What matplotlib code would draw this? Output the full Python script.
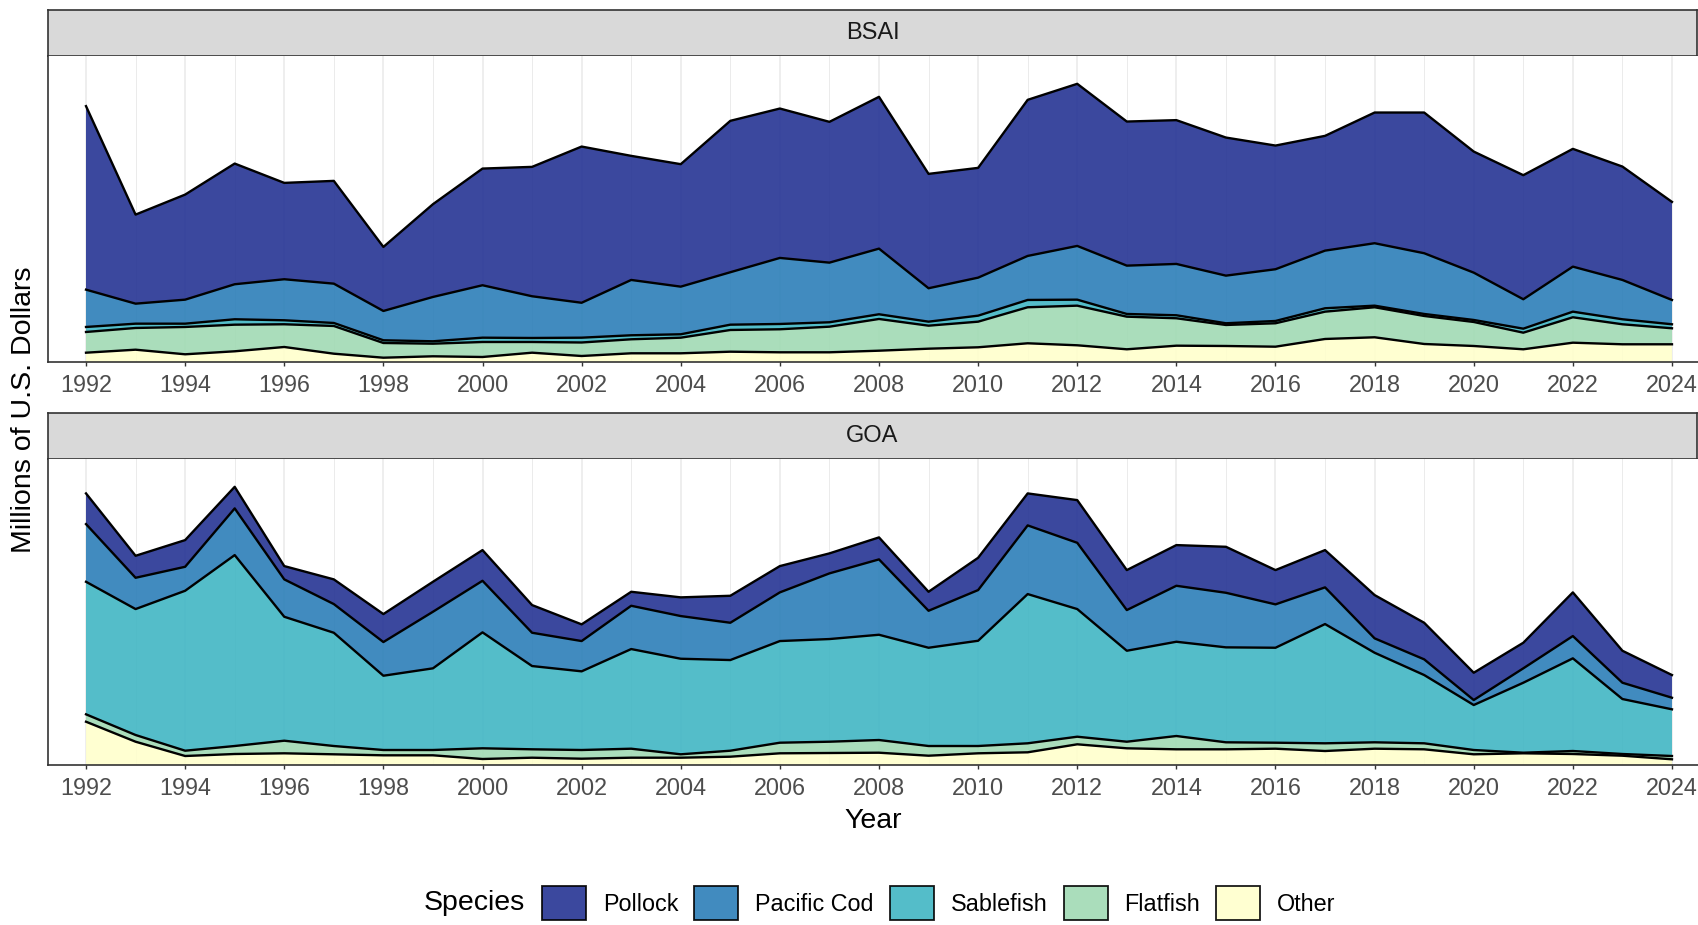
import matplotlib
matplotlib.use("Agg")
import matplotlib.pyplot as plt
import numpy as np
from matplotlib.patches import Patch

plt.rcParams["font.family"] = ["Liberation Sans", "DejaVu Sans"]

# Data (the chart shows no y tick labels, so the
# units are only relative within each panel).
years = [1992, 1993, 1994, 1995, 1996, 1997, 1998, 1999, 2000, 2001, 2002,
         2003, 2004, 2005, 2006, 2007, 2008, 2009, 2010, 2011, 2012, 2013,
         2014, 2015, 2016, 2017, 2018, 2019, 2020, 2021, 2022, 2023, 2024]
species = ["Pollock", "Pacific Cod", "Sablefish", "Flatfish", "Other"]
colors = ["#253494", "#2C7FB8", "#41B6C4", "#A1DAB4", "#FFFFCC"]

# BSAI
bsai_other = [9.3, 12.3, 7.7, 10.7, 15.0, 8.3, 4.3, 5.7, 5.0, 9.3, 6.0,
              8.7, 8.7, 10.3, 9.7, 9.7, 11.3, 13.3, 14.7, 18.7, 16.7, 12.7,
              16.3, 16.0, 15.3, 23.0, 24.7, 18.0, 16.0, 12.7, 19.3, 17.7, 17.7]
bsai_flatfish = [20.7, 21.7, 27.3, 26.6, 22.7, 27.7, 14.7, 12.6, 15.0, 10.7, 13.5,
                 14.0, 15.6, 21.7, 23.0, 25.6, 31.7, 23.0, 25.6, 36.0, 39.6, 32.6,
                 27.4, 21.0, 23.4, 27.3, 30.0, 28.0, 24.0, 16.6, 25.4, 20.0, 16.0]
bsai_sablefish = [5.0, 4.3, 3.3, 5.4, 4.0, 3.0, 2.7, 2.4, 4.3, 4.0, 4.8,
                  4.0, 3.4, 5.3, 5.3, 4.4, 4.7, 4.0, 6.0, 7.3, 6.0, 2.7,
                  3.0, 1.7, 2.3, 3.4, 1.6, 2.0, 2.0, 4.0, 5.6, 5.0, 4.0]
bsai_pcod = [37.3, 20.0, 24.0, 35.0, 41.0, 39.3, 29.3, 44.3, 52.4, 41.7, 34.9,
             55.3, 47.6, 52.4, 66.0, 59.6, 65.6, 33.4, 38.0, 44.0, 53.7, 48.3,
             51.3, 47.6, 51.7, 57.6, 62.4, 60.7, 47.3, 29.4, 45.0, 39.3, 24.3]
bsai_pollock = [183.4, 89.0, 105.0, 120.6, 96.3, 102.7, 64.0, 92.7, 116.6, 129.3, 156.1,
                124.0, 122.4, 151.3, 149.3, 140.7, 151.7, 114.3, 109.7, 156.0, 162.0, 144.0,
                143.7, 138.0, 123.6, 114.7, 130.6, 140.6, 121.0, 124.0, 117.7, 113.3, 98.0]

# GOA
goa_other = [43.3, 23.3, 9.0, 11.0, 11.7, 10.7, 9.7, 9.7, 6.0, 7.3, 6.3,
             7.3, 7.3, 8.3, 11.7, 12.0, 12.3, 9.3, 11.7, 12.7, 20.7, 16.7,
             15.7, 15.7, 16.3, 14.0, 16.3, 15.7, 10.7, 11.7, 11.0, 9.3, 5.7]
goa_flatfish = [7.4, 6.7, 5.3, 8.0, 12.6, 8.3, 5.3, 5.3, 10.7, 8.4, 8.7,
                9.0, 3.4, 6.0, 10.6, 11.3, 12.7, 9.7, 7.3, 9.0, 7.6, 6.6,
                13.3, 7.0, 6.0, 7.7, 6.4, 6.0, 4.3, 0.6, 3.0, 1.7, 3.3]
goa_sablefish = [132.6, 126.0, 160.0, 191.0, 124.0, 113.3, 74.3, 81.7, 116.0, 83.3, 78.7,
                 99.7, 95.6, 90.7, 101.7, 102.7, 105.3, 98.3, 105.3, 149.3, 127.7, 91.0,
                 94.3, 95.0, 95.0, 119.3, 89.6, 68.3, 45.0, 70.0, 92.7, 55.0, 46.7]
goa_pcod = [57.7, 31.3, 24.0, 46.7, 37.4, 28.7, 33.7, 56.6, 51.6, 33.3, 30.3,
            43.3, 42.7, 37.3, 48.7, 65.7, 75.4, 37.0, 50.7, 68.7, 66.3, 40.7,
            56.0, 54.6, 43.4, 36.7, 14.4, 15.7, 5.0, 14.4, 22.3, 16.3, 11.6]
goa_pollock = [30.7, 22.0, 26.7, 21.6, 13.3, 24.7, 28.0, 30.0, 30.7, 27.7, 16.7,
               14.0, 18.7, 27.0, 26.3, 20.0, 22.0, 19.0, 32.3, 32.0, 42.7, 40.0,
               40.7, 46.0, 34.3, 37.3, 43.3, 36.6, 27.3, 25.6, 43.7, 32.0, 22.7]

W, H = 1698, 925
fig = plt.figure(figsize=(W / 100, H / 100), dpi=100)
fig.patch.set_facecolor("white")

DARK = "#333333"


def add_strip(top_px, label):
    sax = fig.add_axes([48 / W, 1 - (top_px + 46) / H, 1649 / W, 46 / H])
    sax.set_facecolor("#D9D9D9")
    sax.set_xticks([])
    sax.set_yticks([])
    for sp in sax.spines.values():
        sp.set_color(DARK)
        sp.set_linewidth(1.2)
    sax.text(0.5, 0.5, label, ha="center", va="center", fontsize=17,
             color="#1A1A1A", transform=sax.transAxes)


def draw_panel(top_px, layers):
    # layers bottom -> top: Other, Flatfish, Sablefish, Pacific Cod, Pollock
    ax = fig.add_axes([48 / W, 1 - (top_px + 306) / H, 1650 / W, 306 / H])
    ax.stackplot(years, layers, colors=colors[::-1], alpha=0.9, linewidth=0)
    tops = np.cumsum(np.array(layers), axis=0)
    for top in tops:
        ax.plot(years, top, color="black", lw=1.7)
    ax.set_xlim(1991.233, 2024.525)
    ax.set_ylim(0, tops[-1].max() * 1.1)
    ax.set_xticks(years[::2])
    ax.set_xticks(years[1::2], minor=True)
    ax.set_yticks([])
    ax.grid(axis="x", which="major", color="#EBEBEB", lw=1.2)
    ax.grid(axis="x", which="minor", color="#EBEBEB", lw=0.7)
    ax.set_axisbelow(True)
    ax.tick_params(axis="x", which="major", length=3, width=1.0, color=DARK,
                   labelsize=16.8, labelcolor="#4D4D4D", pad=5.5)
    ax.tick_params(axis="x", which="minor", length=0)
    for side in ("top", "right"):
        ax.spines[side].set_visible(False)
    for side in ("left", "bottom"):
        ax.spines[side].set_color(DARK)
        ax.spines[side].set_linewidth(1.2)
    return ax


add_strip(10, "BSAI")
draw_panel(56, [bsai_other, bsai_flatfish, bsai_sablefish, bsai_pcod, bsai_pollock])
add_strip(413, "GOA")
draw_panel(459, [goa_other, goa_flatfish, goa_sablefish, goa_pcod, goa_pollock])

fig.text(873 / W, 1 - 821 / H, "Year", ha="center", va="center", fontsize=20.5)
fig.text(24 / W, 1 - 410 / H, "Millions of U.S. Dollars", ha="center", va="center",
         rotation=90, fontsize=20.5)

# legend
handles = [Patch(facecolor=c, edgecolor="black", lw=1.3, alpha=0.9) for c in colors]
fig.text(424 / W, 1 - 903 / H, "Species", ha="left", va="center", fontsize=20.5)
fig.legend(handles, species, ncol=5, loc="center left",
           bbox_to_anchor=(542 / W, 1 - 903 / H), frameon=False,
           fontsize=16.8, handlelength=1.89, handleheight=1.84,
           handletextpad=0.71, columnspacing=0.70, borderpad=0, borderaxespad=0)

fig.savefig("out.png", dpi=100, facecolor="white")
